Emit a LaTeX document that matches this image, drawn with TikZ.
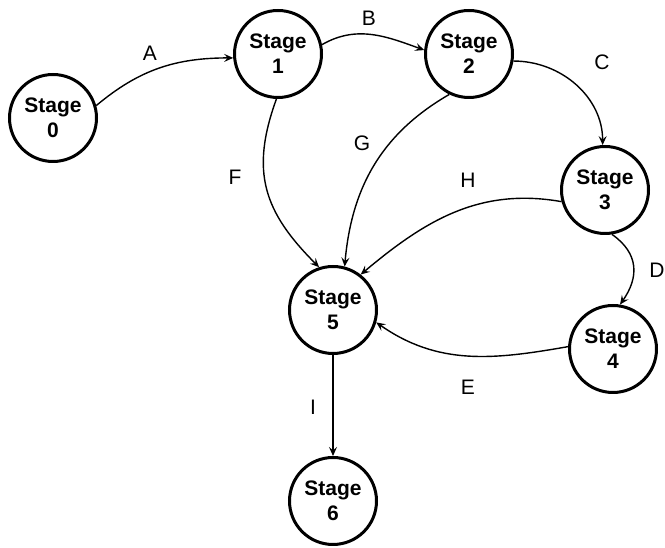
\documentclass[tikz,border=0pt]{standalone}
\usepackage{fontspec}
\setmainfont{Liberation Sans}
\usetikzlibrary{arrows.meta}
\begin{document}
\begin{tikzpicture}[x=1pt,y=1pt,
  stage/.style={circle,draw,line width=3pt,minimum size=87pt,inner sep=0pt,align=center,
    font=\fontsize{21}{25}\selectfont\bfseries},
  edge/.style={line width=1.4pt,-{Stealth[length=9pt,width=8pt,inset=3.5pt]}},
  lab/.style={font=\fontsize{21}{25}\selectfont}]
\useasboundingbox (0,0) rectangle (665,548);
\node[stage] (s0) at (53,430) {Stage\\0};
\node[stage] (s1) at (278,494) {Stage\\1};
\node[stage] (s2) at (469,494) {Stage\\2};
\node[stage] (s3) at (605,358) {Stage\\3};
\node[stage] (s4) at (613,199) {Stage\\4};
\node[stage] (s5) at (333,238) {Stage\\5};
\node[stage] (s6) at (333,47) {Stage\\6};

\draw[edge] (s0.16) to[out=40,in=180] (s1.185);
\draw[edge] (s1.12) to[out=30,in=160] (s2.175);
\draw[edge] (s2.-9) to[out=0,in=90] (s3.93);
\draw[edge] (s3.-81) to[out=-35,in=55,looseness=1.2] (s4.81);
\draw[edge] (s4.177) to[out=190,in=-35] (s5.-16);
\draw[edge] (s1.268) to[out=250,in=135,looseness=1.15] (s5.108);
\draw[edge] (s2.244) to[out=210,in=85] (s5.75);
\draw[edge] (s3.195) to[out=170,in=40] (s5.52);
\draw[edge] (s5) -- (s6);

\node[lab] (la) at (150,495) {A};
\node[lab] (lb) at (369,530) {B};
\node[lab] (lc) at (602,486) {C};
\node[lab] (ld) at (657,278) {D};
\node[lab] (le) at (468,161) {E};
\node[lab] (lf) at (235,371) {F};
\node[lab] (lg) at (362,405) {G};
\node[lab] (lh) at (468,368) {H};
\node[lab] (li) at (313,141) {I};
\end{tikzpicture}
\end{document}
